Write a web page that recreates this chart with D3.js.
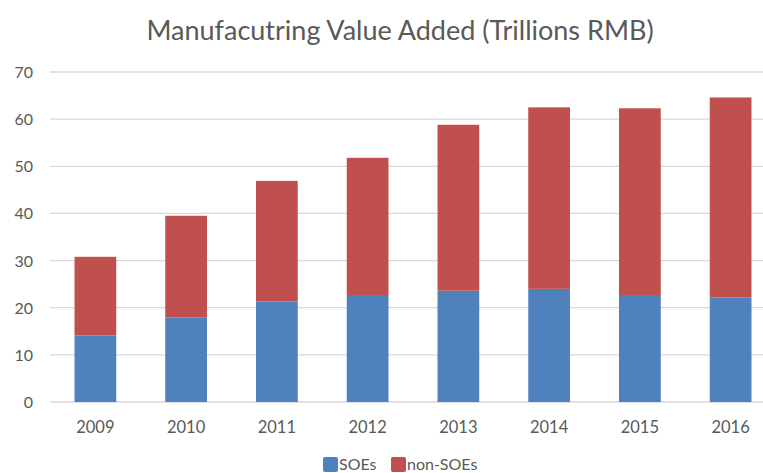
<!DOCTYPE html>
<html>
<head>
<meta charset="utf-8">
<script src="https://cdn.jsdelivr.net/npm/d3@7"></script>
<style>
  body { margin: 0; background: #fff; }
  svg { display: block; font-family: Lato, "Open Sans", sans-serif; }
  .grid line { stroke: #d9d9d9; stroke-width: 1.3px; }
  .ylab text { fill: #595959; font-size: 16px; }
  .xlab text { fill: #595959; font-size: 16.5px; }
</style>
</head>
<body>
<div id="chart"></div>
<script>
var years = ["2009", "2010", "2011", "2012", "2013", "2014", "2015", "2016"];
var soes = [14.1, 17.9, 21.3, 22.5, 23.6, 24.0, 22.5, 22.2];
var totals = [30.8, 39.5, 46.9, 51.8, 58.8, 62.5, 62.3, 64.6];
var nonSoes = totals.map(function(t, i) { return +(t - soes[i]).toFixed(1); });
var yTicks = [0, 10, 20, 30, 40, 50, 60, 70];
var seriesNames = ["SOEs", "non-SOEs"];
var colors = ["#4f81bd", "#c0504d"];

var width = 763, height = 473;
var svg = d3.select("#chart").append("svg")
    .attr("width", width)
    .attr("height", height);

var x = d3.scaleBand()
    .domain(years)
    .range([50, 776])
    .paddingInner(0.54)
    .paddingOuter(0.27);

var y = d3.scaleLinear()
    .domain([0, 70])
    .range([402, 72]);

// gridlines
svg.append("g")
    .attr("class", "grid")
    .selectAll("line")
    .data(yTicks)
    .enter().append("line")
    .attr("x1", 50)
    .attr("x2", width)
    .attr("y1", function(d) { return y(d); })
    .attr("y2", function(d) { return y(d); });

// y labels
svg.append("g")
    .attr("class", "ylab")
    .selectAll("text")
    .data(yTicks)
    .enter().append("text")
    .attr("x", 33)
    .attr("y", function(d) { return y(d) + 6; })
    .attr("text-anchor", "end")
    .text(function(d) { return d; });

// stacked bars
var rows = years.map(function(yr, i) {
  return { year: yr, "SOEs": soes[i], "non-SOEs": nonSoes[i] };
});
var stack = d3.stack().keys(seriesNames)(rows);

svg.append("g")
    .selectAll("g")
    .data(stack)
    .enter().append("g")
    .attr("fill", function(d, i) { return colors[i]; })
    .selectAll("rect")
    .data(function(d) { return d; })
    .enter().append("rect")
    .attr("x", function(d) { return x(d.data.year); })
    .attr("width", x.bandwidth())
    .attr("y", function(d) { return y(d[1]); })
    .attr("height", function(d) { return y(d[0]) - y(d[1]); });

// x labels
svg.append("g")
    .attr("class", "xlab")
    .selectAll("text")
    .data(years)
    .enter().append("text")
    .attr("x", function(d) { return x(d) + x.bandwidth() / 2; })
    .attr("y", 433)
    .attr("text-anchor", "middle")
    .text(function(d) { return d; });

// title
svg.append("text")
    .attr("x", 400)
    .attr("y", 40)
    .attr("text-anchor", "middle")
    .attr("fill", "#595959")
    .style("font-size", "27px")
    .text("Manufacutring Value Added (Trillions RMB)");

// legend (sits right at the bottom edge, as in the original)
var legendX = [323, 391];
var legend = svg.append("g")
    .selectAll("g")
    .data(seriesNames)
    .enter().append("g")
    .attr("transform", function(d, i) { return "translate(" + legendX[i] + ",457)"; });

legend.append("rect")
    .attr("width", 15)
    .attr("height", 15)
    .attr("rx", 2)
    .attr("fill", function(d, i) { return colors[i]; });

legend.append("text")
    .attr("x", 16)
    .attr("y", 13)
    .attr("fill", "#595959")
    .style("font-size", "16px")
    .text(function(d) { return d; });
</script>
</body>
</html>
